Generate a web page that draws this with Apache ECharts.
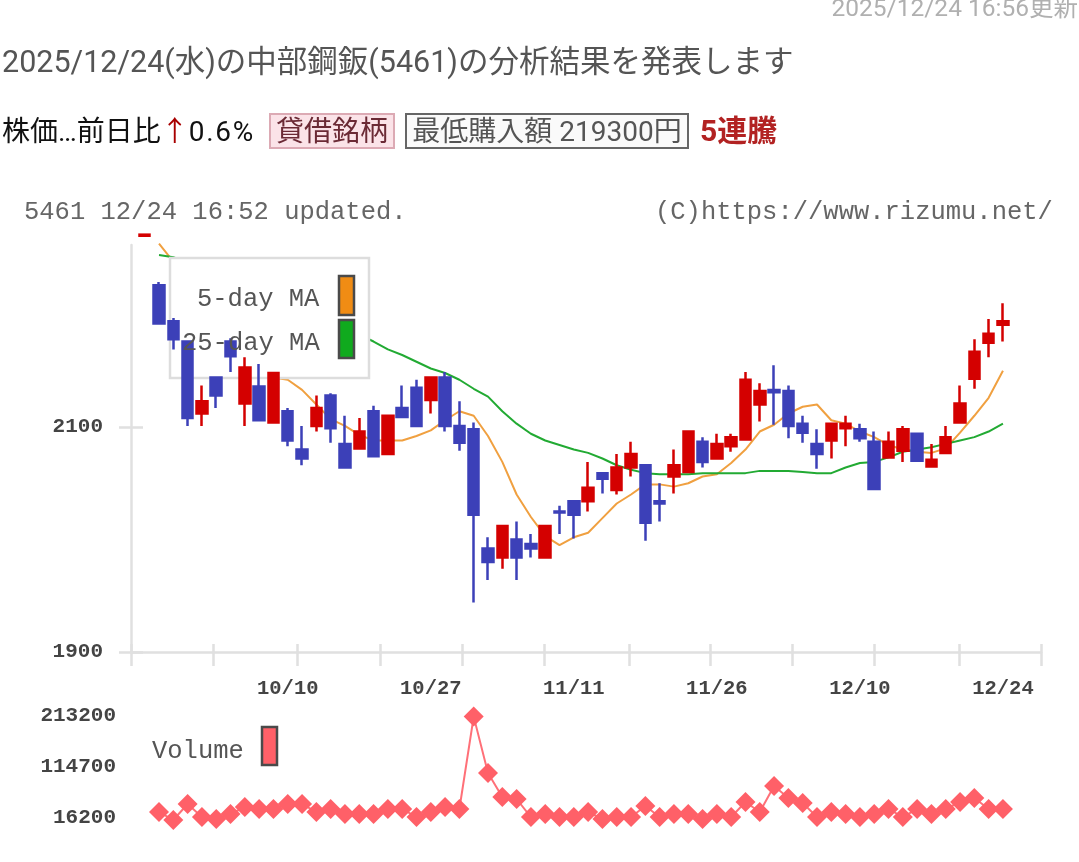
<!DOCTYPE html>
<html lang="ja">
<head>
<meta charset="UTF-8">
<title>中部鋼鈑(5461)</title>
<script src="https://cdn.jsdelivr.net/npm/echarts@6/dist/echarts.min.js"></script>
<style>
html, body { margin: 0; padding: 0; background: #fff; overflow: hidden; }
#main { position: absolute; left: 0; top: 0; width: 1079px; height: 862px; filter: blur(0.5px); }
.t { position: absolute; white-space: nowrap; font-family: Roboto, "Noto Sans CJK JP", sans-serif; line-height: 1; z-index: 2; }
.box { position: absolute; box-sizing: border-box; height: 36px; top: 113px; line-height: 34px; text-align: center; font-family: Roboto, "Noto Sans CJK JP", sans-serif; font-size: 28px; white-space: nowrap; z-index: 2; }
</style>
</head>
<body>
<div id="main"></div>
<div class="t" style="right:1px;top:-4px;font-size:24.5px;color:#b0b0b0">2025/12/24 16:56更新</div>
<div class="t" style="left:2px;top:47px;font-size:30.5px;color:#555">2025/12/24(水)の中部鋼鈑(5461)の分析結果を発表します</div>
<div class="t" style="left:2px;top:118px;font-size:28px;color:#111">株価…前日比<span style="color:#a80000">↑</span><span style="letter-spacing:1.7px">0.6%</span></div>
<div class="box" style="left:269px;width:126px;background:#fbe3e8;border:2px solid #dcaab4;color:#6b2a35">貸借銘柄</div>
<div class="box" style="left:405px;width:284px;background:#fafafa;border:2px solid #666;color:#555">最低購入額 219300円</div>
<div class="t" style="left:700px;top:116px;font-size:30px;font-weight:bold;color:#b22222">5連騰</div>
<script>
// 先頭は画像上端で切れている足
var opens = [2270,2226,2194,2176,2112,2144,2176,2121,2136,2104,2114,2080,2101,2128,2085,2081,2114,2076,2117,2135,2124,
  2144,2101,2098,1992,1984,2000,1996,1984,2025,2034,2034,2059,2044,2064,2066,2034,2056,2060,2087,2072,
  2083,2089,2120,2133,2132,2103,2085,2088,2099,2098,2087,2073,2079,2094,2065,2077,2104,2143,2175,2191];
var closes = [2271,2192,2178,2108,2123,2128,2163,2153,2106,2148,2088,2072,2117,2099,2064,2096,2074,2110,2109,2101,2144,
  2101,2086,2022,1980,2012,1984,1992,2012,2024,2022,2046,2054,2064,2076,2015,2032,2066,2096,2069,2085,
  2091,2142,2132,2131,2101,2095,2076,2103,2103,2090,2045,2087,2098,2070,2071,2091,2121,2167,2183,2194];
var lows = [2270,2192,2169,2101,2101,2117,2149,2101,2106,2104,2083,2066,2096,2086,2063,2081,2074,2076,2108,2101,2112,
  2096,2079,1944,1964,1974,1964,1984,1983,2005,2001,2025,2041,2040,2056,1999,2016,2041,2060,2064,2072,
  2078,2089,2105,2102,2090,2086,2063,2072,2083,2087,2045,2072,2069,2070,2065,2077,2104,2134,2162,2176];
var highs = [2271,2229,2197,2176,2137,2144,2179,2162,2156,2148,2117,2101,2128,2130,2110,2108,2119,2110,2137,2142,2144,
  2149,2123,2104,2002,2012,2016,2005,2012,2030,2034,2069,2059,2076,2087,2066,2050,2080,2096,2091,2094,
  2094,2149,2139,2155,2137,2110,2098,2103,2110,2103,2096,2096,2101,2094,2085,2101,2137,2178,2196,2210];
var ma5 = [null,2263,2247,2226,2204,2186,2173,2161,2152,2144,2142,2133,2120,2107,2101,2093,2088,2088,2088,2092,2097,
  2106,2114,2110,2092,2069,2040,2020,2003,1995,2002,2006,2019,2032,2040,2049,2049,2047,2050,2056,2058,
  2068,2080,2096,2102,2112,2118,2120,2106,2103,2096,2091,2084,2080,2078,2077,2081,2095,2110,2126,2150];
var ma25 = [null,2253,2251,2246,2240,2235,2230,2224,2219,2214,2208,2203,2198,2192,2187,2182,2176,2169,2164,2158,2152,
  2148,2142,2134,2127,2114,2103,2094,2088,2084,2080,2077,2072,2066,2062,2059,2058,2058,2058,2059,2059,
  2059,2059,2061,2061,2061,2060,2059,2059,2064,2068,2069,2073,2078,2080,2082,2085,2088,2091,2096,2103];
var volumes = [null,27800,12300,43200,18100,14300,23900,37400,33600,33600,43200,43200,27800,33600,23900,23900,23900,33600,33600,18100,27800,
  37400,33600,212000,103100,56800,52900,18100,23900,18100,18100,27800,14300,18100,18100,39400,18100,23900,23900,14300,23900,
  18100,47100,27800,78000,54800,45200,18100,27800,23900,18100,23900,33600,18100,33600,23900,33600,47100,54800,33600,33600];
var dateLabels = ['10/10','10/27','11/11','11/26','12/10','12/24'];
var dateIndexes = [10,20,30,40,50,60];
var priceTicks = [1900,2100];
var volumeTicks = [16200,114700,213200];
// 横軸の目盛り(足の番号換算)
var xTicks = [-0.958,4.77,10.65,16.45,22.18,27.92,33.86,39.52,45.25,50.98,56.92,62.66];

var xMin = -0.958, xMax = 62.66;
var axisGrey = '#e0e0e0';
var mono = '"Liberation Mono", "DejaVu Sans Mono", monospace';
var textGrey = '#555';

var candleData = opens.map(function (o, i) {
  return [i, o, closes[i], lows[i], highs[i]];
});
function pairs(arr) {
  return arr.map(function (v, i) { return [i, v]; });
}
function plain(v) {
  return String(v);
}

var myChart = echarts.init(document.getElementById('main'));
var option = {
  animation: false,
  grid: [
    { left: 131, top: 245, width: 910, height: 407 },
    { left: 131, top: 716, width: 910, height: 102 }
  ],
  xAxis: [
    {
      type: 'value', gridIndex: 0, min: xMin, max: xMax, position: 'bottom',
      axisLine: { show: true, onZero: false, lineStyle: { color: axisGrey, width: 2.5 } },
      axisTick: { show: true, length: 14, customValues: xTicks, lineStyle: { color: axisGrey, width: 2.5 } },
      axisLabel: {
        margin: 26, color: '#444', fontFamily: mono, fontSize: 20.5, fontWeight: 'bold',
        customValues: dateIndexes,
        formatter: function (v) { return dateLabels[dateIndexes.indexOf(v)]; }
      },
      splitLine: { show: false }
    },
    {
      type: 'value', gridIndex: 0, min: xMin, max: xMax, position: 'bottom',
      axisLine: { show: false, onZero: false },
      axisTick: { show: true, inside: true, length: 8, customValues: xTicks, lineStyle: { color: axisGrey, width: 2.5 } },
      axisLabel: { show: false },
      splitLine: { show: false }
    },
    { type: 'value', gridIndex: 1, min: xMin, max: xMax, show: false }
  ],
  yAxis: [
    {
      type: 'value', gridIndex: 0, min: 1900, max: 2261.8, position: 'left',
      axisLine: { show: true, onZero: false, lineStyle: { color: axisGrey, width: 2.5 } },
      axisTick: { show: true, length: 12, customValues: priceTicks, lineStyle: { color: axisGrey, width: 2.5 } },
      axisLabel: { margin: 28, color: '#444', fontFamily: mono, fontSize: 21, fontWeight: 'bold', customValues: priceTicks, formatter: plain },
      splitLine: { show: false }
    },
    {
      type: 'value', gridIndex: 0, min: 1900, max: 2261.8, position: 'left',
      axisLine: { show: false, onZero: false },
      axisTick: { show: true, inside: true, length: 12, customValues: priceTicks, lineStyle: { color: axisGrey, width: 2.5 } },
      axisLabel: { show: false },
      splitLine: { show: false }
    },
    {
      type: 'value', gridIndex: 1, min: 16200, max: 213200, position: 'left',
      axisLine: { show: false, onZero: false },
      axisTick: { show: false },
      axisLabel: { margin: 15, color: '#444', fontFamily: mono, fontSize: 21, fontWeight: 'bold', customValues: volumeTicks, formatter: plain },
      splitLine: { show: false }
    }
  ],
  series: [
    {
      name: '5-day MA', type: 'line', xAxisIndex: 0, yAxisIndex: 0, z: 1,
      data: pairs(ma5), showSymbol: false, clip: false,
      lineStyle: { color: '#f0a040', width: 2 }
    },
    {
      name: '25-day MA', type: 'line', xAxisIndex: 0, yAxisIndex: 0, z: 1,
      data: pairs(ma25), showSymbol: false, clip: false,
      lineStyle: { color: '#22aa33', width: 2 }
    },
    {
      name: 'price', type: 'candlestick', xAxisIndex: 0, yAxisIndex: 0, z: 5,
      data: candleData, barWidth: 11, clip: false,
      encode: { x: 0, y: [1, 2, 3, 4] },
      itemStyle: { color: '#d40000', color0: '#3c40b8', borderColor: '#d40000', borderColor0: '#3c40b8', borderWidth: 2.5 }
    },
    {
      name: 'Volume', type: 'line', xAxisIndex: 2, yAxisIndex: 2, z: 5,
      data: pairs(volumes), clip: false,
      symbol: 'diamond', symbolSize: 20,
      itemStyle: { color: '#ff6068' },
      lineStyle: { color: '#ff7078', width: 2 }
    }
  ],
  graphic: [
    { type: 'rect', z: 3, shape: { x: 170, y: 258, width: 199, height: 120 },
      style: { fill: '#fff', stroke: '#dddddd', lineWidth: 2.5 } },
    { type: 'rect', z: 6, shape: { x: 339, y: 276, width: 15, height: 39 },
      style: { fill: '#f08c14', stroke: '#4a4a4a', lineWidth: 2.5 } },
    { type: 'rect', z: 6, shape: { x: 339, y: 320, width: 15, height: 38 },
      style: { fill: '#10aa1e', stroke: '#4a4a4a', lineWidth: 2.5 } },
    { type: 'rect', z: 6, shape: { x: 262, y: 727, width: 15, height: 38 },
      style: { fill: '#ff6068', stroke: '#4a4a4a', lineWidth: 2.5 } },
    { type: 'text', z: 7, x: 197, y: 286, style: { text: '5-day MA', fill: textGrey, font: '25.5px ' + mono } },
    { type: 'text', z: 7, x: 182, y: 330, style: { text: '25-day MA', fill: textGrey, font: '25.5px ' + mono } },
    { type: 'text', z: 7, x: 152, y: 738, style: { text: 'Volume', fill: textGrey, font: '25.5px ' + mono } },
    { type: 'text', z: 7, x: 24, y: 199, style: { text: '5461 12/24 16:52 updated.', fill: '#666', font: '25.5px ' + mono } },
    { type: 'text', z: 7, x: 655, y: 199, style: { text: '(C)https://www.rizumu.net/', fill: '#666', font: '25.5px ' + mono } }
  ]
};
myChart.setOption(option);
</script>
</body>
</html>
